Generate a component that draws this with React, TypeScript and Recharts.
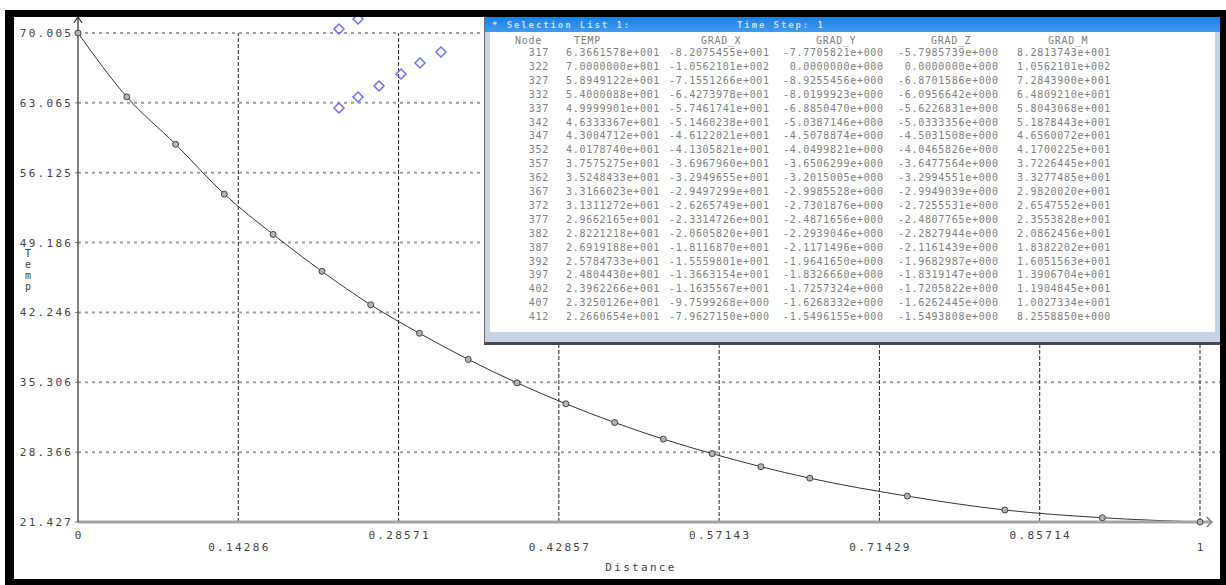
import React from 'react';
import { ComposedChart, Line, Scatter, XAxis, YAxis, ReferenceLine, ReferenceDot } from 'recharts';

// temperature along the path (nodes with markers)
const DISTANCE = [0, 0.0435, 0.087, 0.1304, 0.1739, 0.2174, 0.2609, 0.3043, 0.3478, 0.3913, 0.4348, 0.4783, 0.5217, 0.5652, 0.6087, 0.6522, 0.7391, 0.8261, 0.913, 1];
const TEMP = [70.0, 63.66, 58.95, 54.0, 50.0, 46.33, 43.0, 40.18, 37.58, 35.25, 33.17, 31.31, 29.66, 28.22, 26.92, 25.78, 24.0, 22.62, 21.85, 21.427];

// blue selection markers
const MARK_X = [0.2326, 0.2496, 0.2326, 0.2496, 0.2683, 0.2879, 0.3048, 0.3235];
const MARK_Y = [70.4, 71.4, 62.55, 63.65, 64.74, 65.93, 67.02, 68.12];

const X_TICKS = [0, 0.14286, 0.28571, 0.42857, 0.57143, 0.71429, 0.85714, 1];
const X_LABELS = ['0', '0.14286', '0.28571', '0.42857', '0.57143', '0.71429', '0.85714', '1'];
const Y_TICKS = [21.427, 28.366, 35.306, 42.246, 49.186, 56.125, 63.065, 70.005];

// selection list table
const NODES = ['317', '322', '327', '332', '337', '342', '347', '352', '357', '362', '367', '372', '377', '382', '387', '392', '397', '402', '407', '412'];
const COL_TEMP = ['6.3661578e+001', '7.0000000e+001', '5.8949122e+001', '5.4000088e+001', '4.9999901e+001', '4.6333367e+001', '4.3004712e+001', '4.0178740e+001', '3.7575275e+001', '3.5248433e+001', '3.3166023e+001', '3.1311272e+001', '2.9662165e+001', '2.8221218e+001', '2.6919188e+001', '2.5784733e+001', '2.4804430e+001', '2.3962266e+001', '2.3250126e+001', '2.2660654e+001'];
const COL_GX = ['-8.2075455e+001', '-1.0562101e+002', '-7.1551266e+001', '-6.4273978e+001', '-5.7461741e+001', '-5.1460238e+001', '-4.6122021e+001', '-4.1305821e+001', '-3.6967960e+001', '-3.2949655e+001', '-2.9497299e+001', '-2.6265749e+001', '-2.3314726e+001', '-2.0605820e+001', '-1.8116870e+001', '-1.5559801e+001', '-1.3663154e+001', '-1.1635567e+001', '-9.7599268e+000', '-7.9627150e+000'];
const COL_GY = ['-7.7705821e+000', ' 0.0000000e+000', '-8.9255456e+000', '-8.0199923e+000', '-6.8850470e+000', '-5.0387146e+000', '-4.5078874e+000', '-4.0499821e+000', '-3.6506299e+000', '-3.2015005e+000', '-2.9985528e+000', '-2.7301876e+000', '-2.4871656e+000', '-2.2939046e+000', '-2.1171496e+000', '-1.9641650e+000', '-1.8326660e+000', '-1.7257324e+000', '-1.6268332e+000', '-1.5496155e+000'];
const COL_GZ = ['-5.7985739e+000', ' 0.0000000e+000', '-6.8701586e+000', '-6.0956642e+000', '-5.6226831e+000', '-5.0333356e+000', '-4.5031508e+000', '-4.0465826e+000', '-3.6477564e+000', '-3.2994551e+000', '-2.9949039e+000', '-2.7255531e+000', '-2.4807765e+000', '-2.2827944e+000', '-2.1161439e+000', '-1.9682987e+000', '-1.8319147e+000', '-1.7205822e+000', '-1.6262445e+000', '-1.5493808e+000'];
const COL_GM = ['8.2813743e+001', '1.0562101e+002', '7.2843900e+001', '6.4809210e+001', '5.8043068e+001', '5.1878443e+001', '4.6560072e+001', '4.1700225e+001', '3.7226445e+001', '3.3277485e+001', '2.9820020e+001', '2.6547552e+001', '2.3553828e+001', '2.0862456e+001', '1.8382202e+001', '1.6051563e+001', '1.3906704e+001', '1.1904845e+001', '1.0027334e+001', '8.2558850e+000'];
const HEADERS = ['Node', 'TEMP', 'GRAD_X', 'GRAD_Y', 'GRAD_Z', 'GRAD_M'];

const MONO = "'DejaVu Sans Mono', monospace";
const lineData = DISTANCE.map((d, i) => ({ x: d, temp: TEMP[i] }));
const markData = MARK_X.map((d, i) => ({ x: d, y: MARK_Y[i] }));

function YTick(props: any) {
  const { x, y, payload } = props;
  return (
    <text x={x} y={y} dy={4} dx={2.3} textAnchor="end" fontFamily={MONO} fontSize={11} letterSpacing={2.3} fill="#444">
      {Number(payload.value).toFixed(3)}
    </text>
  );
}

function XTick(props: any) {
  const { x, y, index } = props;
  return (
    <text x={x} y={y} dy={index % 2 === 0 ? 17 : 29} dx={1.1} textAnchor="middle" fontFamily={MONO} fontSize={11} letterSpacing={2.3} fill="#444">
      {X_LABELS[index]}
    </text>
  );
}

const diamond = (p: any) => (
  <path d={`M${p.cx},${p.cy - 5}L${p.cx + 5},${p.cy}L${p.cx},${p.cy + 5}L${p.cx - 5},${p.cy}Z`} fill="none" stroke="#6f6fff" strokeWidth={1.5} />
);

const upArrow = (p: any) => (
  <polyline points={`${p.cx - 4},${p.cy + 6} ${p.cx},${p.cy} ${p.cx + 4},${p.cy + 6}`} fill="none" stroke="#333" strokeWidth={1.2} />
);

const rightArrow = (p: any) => (
  <polyline points={`${p.cx - 5},${p.cy - 5} ${p.cx},${p.cy} ${p.cx - 5},${p.cy + 5}`} fill="none" stroke="#777" strokeWidth={1.5} />
);

const COLS = [
  { left: 565, data: COL_TEMP },
  { left: 668, data: COL_GX },
  { left: 782, data: COL_GY },
  { left: 897, data: COL_GZ },
  { left: 1016, data: COL_GM },
];
const HEAD_X = [514, 573, 700, 815, 930, 1047];

function SelectionWindow() {
  const wx = 484;
  const wy = 17;
  const cell: React.CSSProperties = {
    position: 'absolute',
    fontFamily: MONO,
    fontSize: 10,
    letterSpacing: 0.7,
    lineHeight: '10px',
    color: '#808080',
    whiteSpace: 'pre',
  };
  const title: React.CSSProperties = { ...cell, top: 3, color: '#c6dcf3', fontSize: 9, letterSpacing: 1.9, fontWeight: 'bold' };
  return (
    <div style={{ position: 'absolute', left: wx, top: wy, width: 737, height: 328, boxSizing: 'border-box', background: '#c6d4e3', borderLeft: '1px solid #6d6d6d', borderBottom: '3px solid #4a4a4a' }}>
      {/* title bar */}
      <div style={{ position: 'absolute', left: 0, top: 0, right: 0, height: 15, background: 'linear-gradient(#1c7fe6, #3f9bf0)' }}>
        <span style={{ ...title, left: 7 }}>{'* Selection List 1:'}</span>
        <span style={{ ...title, left: 736 - wx }}>{'Time Step: 1'}</span>
      </div>
      {/* content */}
      <div style={{ position: 'absolute', left: 5, top: 15, width: 725, height: 300, background: '#ffffff' }} />
      {HEADERS.map((h, i) => (
        <span key={h} style={{ ...cell, left: HEAD_X[i] - wx, top: 41 - 5 - wy }}>{h}</span>
      ))}
      {NODES.map((n, r) => (
        <span key={n} style={{ ...cell, left: 520 - wx, width: 28, textAlign: 'right', top: 53 + r * 13.9 - 5 - wy }}>{n}</span>
      ))}
      {COLS.map((c, ci) =>
        c.data.map((v, r) => (
          <span key={`${ci}-${r}`} style={{ ...cell, left: c.left - wx, top: 53 + r * 13.9 - 5 - wy }}>{v}</span>
        ))
      )}
    </div>
  );
}

export default function App() {
  return (
    <div style={{ position: 'absolute', left: 0, top: 0, width: 1226, height: 585, background: '#ffffff', overflow: 'hidden' }}>
      <div style={{ position: 'absolute', left: 0, top: 0 }}>
        <ComposedChart width={1226} height={585} margin={{ top: 14, right: 26, bottom: 13, left: 0 }}>
          <XAxis
            type="number"
            dataKey="x"
            domain={[0, 1]}
            ticks={X_TICKS}
            interval={0}
            tick={<XTick />}
            tickLine={false}
            tickSize={0}
            tickMargin={0}
            height={50}
            axisLine={{ stroke: '#a3a3a3', strokeWidth: 3 }}
            label={{
              content: () => (
                <text x={641} y={571} textAnchor="middle" fontFamily={MONO} fontSize={11} letterSpacing={2.3} fill="#444">Distance</text>
              ),
            }}
          />
          <YAxis
            type="number"
            domain={[21.427, 71.893]}
            ticks={Y_TICKS}
            interval={0}
            width={78}
            tick={<YTick />}
            tickSize={3}
            tickMargin={4}
            tickLine={{ stroke: '#777' }}
            axisLine={{ stroke: '#000', strokeWidth: 1 }}
            label={{
              content: () => (
                <text x={28} y={257} textAnchor="middle" fontFamily={MONO} fontSize={10} fill="#444">
                  {['T', 'e', 'm', 'p'].map((c, i) => (
                    <tspan key={i} x={28} dy={i === 0 ? 0 : 11}>{c}</tspan>
                  ))}
                </text>
              ),
            }}
          />
          {Y_TICKS.slice(1).map((t) => (
            <ReferenceLine key={`h${t}`} segment={[{ x: 0, y: t }, { x: 1.0178, y: t }]} ifOverflow="visible" stroke="#a0a0a0" strokeWidth={2} strokeDasharray="3 4" />
          ))}
          {X_TICKS.slice(1).map((t) => (
            <ReferenceLine key={`v${t}`} segment={[{ x: t, y: 21.427 }, { x: t, y: 70.005 }]} ifOverflow="visible" stroke="#222" strokeWidth={1} strokeDasharray="4 2" />
          ))}
          <ReferenceLine segment={[{ x: 1, y: 21.427 }, { x: 1.009, y: 21.427 }]} ifOverflow="visible" stroke="#a3a3a3" strokeWidth={3} />
          <ReferenceDot x={1.0105} y={21.427} ifOverflow="visible" shape={rightArrow} />
          <ReferenceDot x={0} y={71.6} ifOverflow="visible" shape={upArrow} />
          <Scatter data={markData} dataKey="y" shape={diamond} isAnimationActive={false} />
          <Line
            data={lineData}
            dataKey="temp"
            type="monotone"
            stroke="#333"
            strokeWidth={1}
            dot={{ r: 3, fill: '#b4b4b4', stroke: '#444', strokeWidth: 1 }}
            activeDot={false}
            isAnimationActive={false}
          />
        </ComposedChart>
      </div>
      <SelectionWindow />
      {/* black outer frame */}
      <div style={{ position: 'absolute', left: 5, top: 10, width: 1221, height: 575, boxSizing: 'border-box', borderStyle: 'solid', borderColor: '#000', borderWidth: '7px 6px 6px 9px', pointerEvents: 'none' }} />
    </div>
  );
}
